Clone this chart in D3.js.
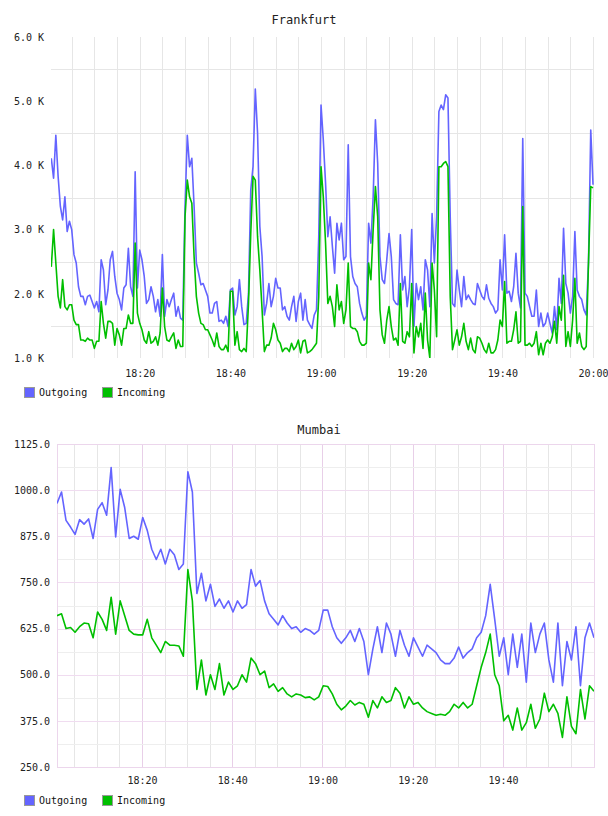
<!DOCTYPE html>
<html>
<head>
<meta charset="utf-8">
<script src="https://cdn.jsdelivr.net/npm/d3@7"></script>
<style>
  body { margin: 0; background: #fff; }
  text { font-family: "DejaVu Sans Mono", monospace; }
</style>
</head>
<body>
<div id="chart"></div>
<script>
// Frankfurt: one sample every 30 s starting 18:00:30
var frankfurtOut = [
  4110,3800,4470,3830,3360,3150,3510,2970,3130,3000,
  2610,2480,2110,1960,1960,1830,1960,1980,1880,1780,
  1880,1720,2530,2370,1830,2060,2530,2660,2270,2010,
  1910,1750,2090,2140,2710,2110,1960,3900,2090,2680,
  2530,2270,1850,1910,2110,1960,1720,1910,1650,2610,
  1650,1910,1800,1910,2010,1650,1800,1620,1590,3360,
  4470,3980,4110,3360,2480,2320,2140,2160,2060,1960,
  1700,1700,1850,1880,1570,1590,1540,1650,1490,2060,
  2090,1670,1800,2220,1800,1520,1540,2010,3620,3980,
  5190,4500,3050,2580,1670,1850,2160,1800,1960,2240,
  2090,2090,1750,1800,1650,1590,1800,1960,1570,1880,
  2010,1590,1910,1590,1520,1460,1670,1750,2890,4940,
  4400,3720,2890,3200,2740,2320,3100,2840,3100,2530,
  2580,4320,2580,2270,2160,2110,1850,1700,1590,1650,
  3100,2790,3510,4710,4030,2580,2220,2160,2530,2940,
  2580,1910,1850,1830,2920,2060,2270,1800,2110,3000,
  1490,2160,1910,2110,1750,2530,2370,1800,3250,2480,
  3200,4840,4940,4870,5100,5050,3200,1850,1800,2370,
  2060,1800,2270,1910,1980,1910,1850,1830,2160,2060,
  1960,1910,2140,1930,1850,1800,1700,1750,2530,2060,
  2920,2010,2040,1880,2110,2630,2010,1780,4420,2010,
  1960,1800,1650,1650,2060,1490,1700,1490,1540,1700,
  1540,1390,1800,1440,2240,1850,3020,2160,2010,1700,
  1960,2970,2060,1960,1910,1750,1670,2480,4550,3700
];
var frankfurtIn = [
  2420,3000,2480,1960,1780,2220,1800,1750,1830,1830,
  1590,1520,1520,1280,1280,1260,1310,1280,1280,1150,
  1260,1260,1880,1540,1310,1570,1570,1540,1200,1460,
  1360,1200,1460,1460,1670,1540,1540,2790,1700,1540,
  1440,1280,1230,1410,1230,1260,1330,1200,1390,2090,
  1490,1280,1260,1330,1390,1150,1280,1180,1180,3200,
  3770,3510,3410,2580,1960,1700,1540,1520,1440,1440,
  1360,1280,1180,1390,1180,1130,1130,1200,1100,2040,
  2040,1200,1410,1130,1100,1150,1100,1850,2940,3830,
  3770,2890,2370,1750,1100,1200,1200,1310,1540,1440,
  1280,1230,1100,1150,1150,1100,1230,1130,1180,1280,
  1080,1260,1280,1080,1100,1130,1180,1230,1960,3980,
  3510,2790,1850,1960,1800,1490,2140,1750,1880,1540,
  1750,2480,1490,1460,1460,1410,1260,1200,1200,1230,
  2480,2220,3000,3670,3200,1750,1360,1230,1590,1800,
  1490,1280,1310,1200,2160,1260,1230,1410,1330,2160,
  1080,1490,1330,1540,1150,2010,1280,1000,2480,2060,
  1330,3980,3980,4030,4060,3980,1960,1130,1280,1440,
  1200,1330,1540,1260,1130,1310,1130,1080,1330,1310,
  1230,1130,1080,1230,1080,1080,1130,1280,1590,1490,
  2190,1230,1260,1260,1440,1720,1230,1260,3360,1200,
  1200,1230,1180,1230,1410,1050,1230,1050,1230,1280,
  1230,1330,1570,1230,1800,1590,2290,1180,1410,1180,
  1590,2240,1230,1390,1180,1130,1180,2480,3670,3650
];

// Mumbai: one sample per minute starting 18:01:10
var mumbaiOut = [
  964,995,918,900,880,920,908,922,869,948,
  966,932,1061,873,1002,953,869,875,867,926,
  891,840,812,840,800,840,825,785,800,1050,
  995,720,775,700,745,685,705,680,700,670,
  700,680,690,785,740,755,700,665,650,635,
  660,640,625,630,615,625,620,610,620,675,
  675,630,600,585,600,620,590,625,590,500,
  570,630,560,640,610,550,620,580,550,600,
  575,550,580,570,560,540,530,530,545,575,
  545,560,570,600,615,660,745,650,550,600,
  500,610,520,610,480,640,560,610,640,540,
  480,640,470,590,540,630,470,600,640,600
];
var mumbaiIn = [
  660,665,625,628,615,630,640,638,600,670,
  650,620,710,610,700,660,620,610,608,608,
  650,600,580,560,590,580,580,578,550,785,
  700,460,540,445,500,460,530,445,480,460,
  470,500,480,545,530,500,510,465,475,455,
  465,448,440,448,445,438,440,432,440,470,
  468,448,420,405,415,430,418,425,420,385,
  430,410,440,425,430,465,450,410,440,420,
  425,410,400,395,390,393,390,400,420,410,
  425,410,420,470,520,560,610,500,470,375,
  390,350,410,350,370,420,355,380,450,400,
  420,395,330,440,360,340,460,380,470,455
];

var frankfurtYTicks = [1000, 2000, 3000, 4000, 5000, 6000];
var mumbaiYTicks = [250, 375, 500, 625, 750, 875, 1000, 1125];
var frankfurtXTicks = ["18:20", "18:40", "19:00", "19:20", "19:40", "20:00"];
var mumbaiXTicks = ["18:20", "18:40", "19:00", "19:20", "19:40"];
var seriesNames = ["Outgoing", "Incoming"];
var seriesColors = ["#6464ff", "#00bf00"];

var parseTime = d3.timeParse("%H:%M");
function t(h, m, s) { return new Date(1900, 0, 1, h, m, s || 0); }

var svg = d3.select("#chart").append("svg")
  .attr("width", 608)
  .attr("height", 816);

function drawChart(cfg) {
  var box = cfg.box;
  var x = d3.scaleTime().domain(cfg.xDomain).range([box.left, box.right]);
  var y = d3.scaleLinear().domain(cfg.yDomain).range([box.bottom, box.top]);
  var g = svg.append("g");

  // title
  g.append("text")
    .attr("x", cfg.titleX).attr("y", cfg.titleY)
    .attr("text-anchor", "middle")
    .attr("font-size", 12)
    .attr("fill", "#222")
    .text(cfg.title);

  // grid
  var minutes = d3.timeMinute.every(5).range(t(18, 5), cfg.gridEnd);
  g.selectAll("line.vgrid")
    .data(minutes)
    .enter().append("line")
    .attr("x1", function(d) { return Math.round(x(d)) + 0.5; })
    .attr("x2", function(d) { return Math.round(x(d)) + 0.5; })
    .attr("y1", box.top).attr("y2", box.bottom)
    .attr("stroke", function(d) {
      return (cfg.pink && d.getMinutes() % 20 === 0) ? "#e8cfe8" : "#e6e6e6";
    });

  var halves = d3.range(cfg.yDomain[0] + cfg.yStep / 2, cfg.yDomain[1], cfg.yStep);
  g.selectAll("line.hgrid")
    .data(halves)
    .enter().append("line")
    .attr("x1", box.left).attr("x2", box.right)
    .attr("y1", function(d) { return Math.round(y(d)) + 0.5; })
    .attr("y2", function(d) { return Math.round(y(d)) + 0.5; })
    .attr("stroke", cfg.pink ? "#eeeeee" : "#e6e6e6");

  if (cfg.pink) {
    g.selectAll("line.hmajor")
      .data(cfg.yTicks.slice(1, -1))
      .enter().append("line")
      .attr("x1", box.left).attr("x2", box.right)
      .attr("y1", function(d) { return Math.round(y(d)) + 0.5; })
      .attr("y2", function(d) { return Math.round(y(d)) + 0.5; })
      .attr("stroke", "#f0dcf0");
    g.append("rect")
      .attr("x", box.left + 0.5).attr("y", box.top + 0.5)
      .attr("width", box.right - box.left).attr("height", box.bottom - box.top)
      .attr("fill", "none")
      .attr("stroke", "#ecd6ec");
  }

  // y axis labels
  var yAxis = d3.axisLeft(y)
    .tickValues(cfg.yTicks)
    .tickSize(0)
    .tickPadding(0)
    .tickFormat(cfg.yFormat);
  g.append("g")
    .attr("transform", "translate(" + cfg.yLabelX + ",0)")
    .call(yAxis)
    .call(function(a) { a.select(".domain").remove(); })
    .selectAll("text")
    .attr("font-family", "DejaVu Sans Mono")
    .attr("font-size", 10)
    .attr("fill", "#222");

  // x axis labels
  var xAxis = d3.axisBottom(x)
    .tickValues(cfg.xTicks.map(parseTime))
    .tickSize(0)
    .tickPadding(0)
    .tickFormat(d3.timeFormat("%H:%M"));
  g.append("g")
    .attr("transform", "translate(0," + cfg.xLabelY + ")")
    .call(xAxis)
    .call(function(a) { a.select(".domain").remove(); })
    .selectAll("text")
    .attr("font-family", "DejaVu Sans Mono")
    .attr("font-size", 10)
    .attr("fill", "#222");

  // series
  var clipId = "clip-" + cfg.title;
  svg.append("clipPath").attr("id", clipId)
    .append("rect")
    .attr("x", box.left).attr("y", box.top)
    .attr("width", box.right - box.left).attr("height", box.bottom - box.top);

  cfg.series.forEach(function(values, si) {
    var line = d3.line()
      .x(function(d, i) { return x(d3.timeSecond.offset(cfg.start, i * cfg.step)); })
      .y(function(d) { return y(d); });
    g.append("path")
      .datum(values)
      .attr("clip-path", "url(#" + clipId + ")")
      .attr("fill", "none")
      .attr("stroke", seriesColors[si])
      .attr("stroke-width", 1.6)
      .attr("stroke-linejoin", "round")
      .attr("d", line);
  });

  // legend
  var legendX = [24, 102];
  seriesNames.forEach(function(name, si) {
    g.append("rect")
      .attr("x", legendX[si] + 0.5).attr("y", cfg.legendY + 0.5)
      .attr("width", 10).attr("height", 10)
      .attr("fill", seriesColors[si])
      .attr("stroke", "#999");
    g.append("text")
      .attr("x", legendX[si] + 15).attr("y", cfg.legendY + 9)
      .attr("font-size", 10)
      .attr("fill", "#111")
      .text(name);
  });
}

drawChart({
  title: "Frankfurt", titleX: 304, titleY: 24,
  box: {left: 51, right: 594, top: 37, bottom: 358},
  xDomain: [t(18, 0, 26), t(20, 0, 13)],
  yDomain: [1000, 6000], yStep: 1000,
  yTicks: frankfurtYTicks,
  yFormat: function(d) { return (d / 1000).toFixed(1) + " K"; },
  yLabelX: 44, xTicks: frankfurtXTicks, xLabelY: 370,
  gridEnd: t(20, 0, 1), pink: false,
  start: t(18, 0, 30), step: 30,
  series: [frankfurtOut, frankfurtIn],
  legendY: 387
});

drawChart({
  title: "Mumbai", titleX: 319, titleY: 434,
  box: {left: 57, right: 594, top: 444, bottom: 767},
  xDomain: [t(18, 1, 10), t(20, 0, 10)],
  yDomain: [250, 1125], yStep: 125,
  yTicks: mumbaiYTicks,
  yFormat: function(d) { return d.toFixed(1); },
  yLabelX: 50, xTicks: mumbaiXTicks, xLabelY: 777,
  gridEnd: t(20, 0), pink: true,
  start: t(18, 1, 10), step: 60,
  series: [mumbaiOut, mumbaiIn],
  legendY: 795
});
</script>
</body>
</html>
